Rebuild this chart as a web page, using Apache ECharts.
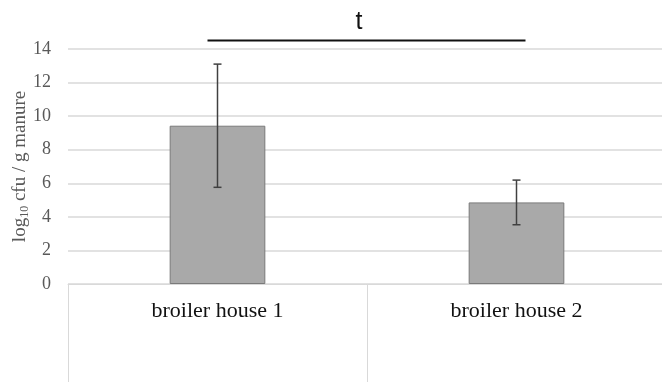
<!DOCTYPE html>
<html>
<head>
<meta charset="utf-8">
<style>
  html, body { margin: 0; padding: 0; background: #ffffff; }
  #chart { width: 662px; height: 382px; }
</style>
<script src="https://cdn.jsdelivr.net/npm/echarts@6/dist/echarts.min.js"></script>
</head>
<body>
<div id="chart"></div>
<script>
// Bacterial load per broiler house (mean ± SD, log10 cfu per gram of manure)
const categories = ['broiler house 1', 'broiler house 2'];
const means = [9.43, 4.86];
const errors = [3.67, 1.33];
const yTicks = [0, 2, 4, 6, 8, 10, 12, 14];
const significanceLabel = 't';
const significanceLevel = 14.5;

const serif = '"Liberation Serif", "Times New Roman", serif';
const gridColor = '#d9d9d9';

const chart = echarts.init(document.getElementById('chart'), null, { renderer: 'canvas' });

const errorData = categories.map((c, i) => [i, means[i] - errors[i], means[i] + errors[i]]);

chart.setOption({
  animation: false,
  backgroundColor: '#ffffff',
  grid: { left: 68, right: -4, top: 49, bottom: 98, containLabel: false, outerBoundsMode: 'none' },
  xAxis: {
    type: 'category',
    data: categories,
    axisLine: { show: true, lineStyle: { color: gridColor, width: 1 } },
    axisTick: { show: true, length: 100, interval: 0, lineStyle: { color: gridColor, width: 1 } },
    axisLabel: { color: '#111111', fontFamily: serif, fontSize: 22, margin: 16, interval: 0 },
    splitLine: { show: false }
  },
  yAxis: {
    type: 'value',
    min: yTicks[0],
    max: yTicks[yTicks.length - 1],
    interval: yTicks[1] - yTicks[0],
    axisLine: { show: false },
    axisTick: { show: false },
    axisLabel: { color: '#595959', fontFamily: serif, fontSize: 18, margin: 17 },
    splitLine: { lineStyle: { color: gridColor, width: 1.5 } },
    name: '{a|log}{s|10}{a| cfu / g manure}',
    nameLocation: 'middle',
    nameRotate: 90,
    nameGap: 37,
    nameMoveOverlap: false,
    nameTextStyle: {
      rich: {
        a: { fontFamily: serif, fontSize: 19, color: '#595959', lineHeight: 22, verticalAlign: 'middle' },
        s: { fontFamily: serif, fontSize: 12, color: '#595959', lineHeight: 12, padding: [11, 0, 0, 0], verticalAlign: 'bottom' }
      }
    }
  },
  series: [
    {
      type: 'bar',
      data: means,
      barWidth: '32%',
      itemStyle: { color: '#a9a9a9', borderColor: '#7a7a7a', borderWidth: 1 },
      z: 2
    },
    {
      type: 'custom',
      data: errorData,
      z: 5,
      renderItem: function (params, api) {
        const x = api.value(0);
        const lo = api.coord([x, api.value(1)]);
        const hi = api.coord([x, api.value(2)]);
        const cap = 4;
        const style = { stroke: '#404040', lineWidth: 1.5 };
        return {
          type: 'group',
          children: [
            { type: 'line', shape: { x1: hi[0], y1: hi[1], x2: lo[0], y2: lo[1] }, style: style },
            { type: 'line', shape: { x1: hi[0] - cap, y1: hi[1], x2: hi[0] + cap, y2: hi[1] }, style: style },
            { type: 'line', shape: { x1: lo[0] - cap, y1: lo[1], x2: lo[0] + cap, y2: lo[1] }, style: style }
          ]
        };
      }
    }
  ]
});

// Significance bar spanning both houses, with its label above it
const p1 = chart.convertToPixel({ xAxisIndex: 0, yAxisIndex: 0 }, [0, significanceLevel]);
const p2 = chart.convertToPixel({ xAxisIndex: 0, yAxisIndex: 0 }, [1, significanceLevel]);
chart.setOption({
  graphic: [
    {
      type: 'line',
      shape: { x1: p1[0] - 10, y1: p1[1], x2: p2[0] + 9, y2: p2[1] },
      style: { stroke: '#111111', lineWidth: 2 },
      z: 10
    },
    {
      type: 'text',
      x: (p1[0] + p2[0]) / 2 - 8,
      y: p1[1] - 6,
      style: {
        text: significanceLabel,
        fontFamily: 'Arial, "Liberation Sans", sans-serif',
        fontSize: 25,
        fill: '#111111',
        align: 'center',
        verticalAlign: 'bottom'
      },
      z: 10
    }
  ]
});
</script>
</body>
</html>
